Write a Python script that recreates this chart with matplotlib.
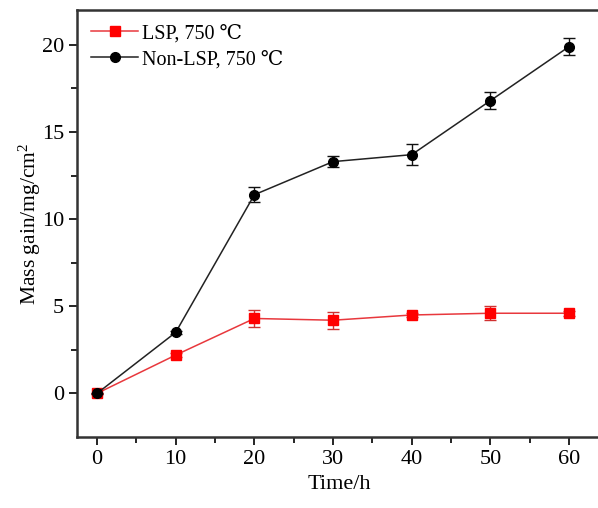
import matplotlib
matplotlib.use('Agg')
import matplotlib.pyplot as plt
from matplotlib.lines import Line2D

plt.rcParams['font.family'] = ['Liberation Serif', 'DejaVu Serif']
plt.rcParams['mathtext.fontset'] = 'custom'
plt.rcParams['mathtext.rm'] = 'Liberation Serif'
plt.rcParams['mathtext.default'] = 'regular'

# oxidation time (h) and mass gain (mg/cm2) with error bars
time_h = [0, 10, 20, 30, 40, 50, 60]
lsp_gain = [0.0, 2.2, 4.3, 4.2, 4.5, 4.6, 4.6]
lsp_err = [0.05, 0.1, 0.5, 0.5, 0.1, 0.4, 0.15]
non_lsp_gain = [0.0, 3.5, 11.4, 13.3, 13.7, 16.8, 19.9]
non_lsp_err = [0.05, 0.1, 0.43, 0.3, 0.6, 0.5, 0.5]

fig = plt.figure(figsize=(5.98, 5.08), dpi=100)
ax = fig.add_axes([0.1293, 0.1398, 0.875, 0.8405])

lsp_style = dict(color='#e8383d', lw=1.1, marker='s', ms=6.5, mfc='#ff0000', mec='#ff0000')
non_style = dict(color='#222222', lw=1.1, marker='o', ms=7, mfc='black', mec='black')

ax.errorbar(time_h, lsp_gain, yerr=lsp_err, ecolor='#d03030',
            capsize=4, elinewidth=1.0, capthick=1.0, **lsp_style)
ax.errorbar(time_h, non_lsp_gain, yerr=non_lsp_err, ecolor='#111111',
            capsize=4, elinewidth=1.0, capthick=1.0, **non_style)

ax.set_xlim(-2.5, 64)
ax.set_ylim(-2.5, 22)
ax.set_xticks(range(0, 61, 10))
ax.set_xticks(range(5, 61, 10), minor=True)
ax.set_yticks([0, 5, 10, 15, 20])
ax.set_yticks([2.5, 7.5, 12.5, 17.5], minor=True)
ax.tick_params(which='both', direction='out', labelsize=16, width=1.2)
ax.tick_params(which='major', length=6)
ax.tick_params(which='minor', length=4)
for s in ax.spines.values():
    s.set_linewidth(1.8)
    s.set_color('#333333')
ax.spines['right'].set_visible(False)

ax.set_xlabel('Time/h', fontsize=16)
ax.set_ylabel('Mass gain/mg/cm$^{2}$', fontsize=15.5, labelpad=-1)

handles = [Line2D([], [], **lsp_style), Line2D([], [], **non_style)]
ax.legend(handles, ['LSP, 750 \u2103', 'Non-LSP, 750 \u2103'], loc='upper left',
          frameon=False, fontsize=14.5, handlelength=2.3, handletextpad=0.2,
          borderaxespad=0.3, labelspacing=0.35)

fig.savefig('out.png', dpi=100)
